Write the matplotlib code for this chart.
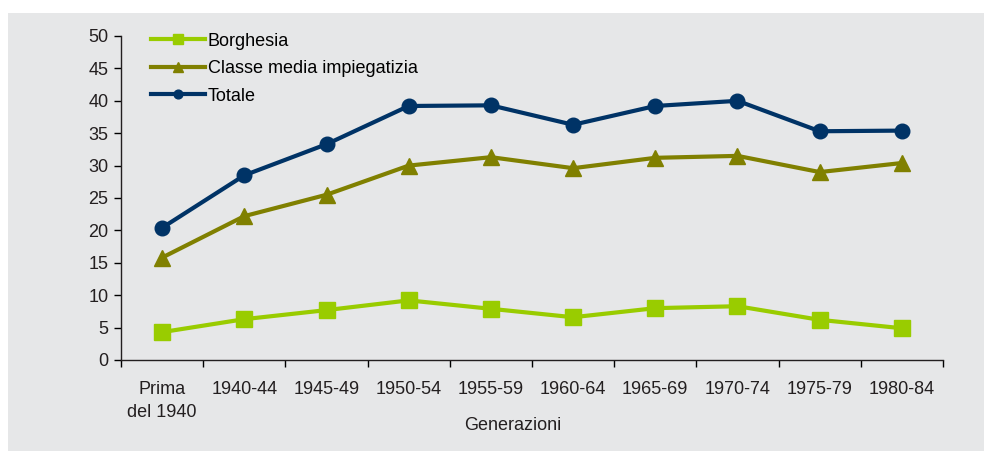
import matplotlib
matplotlib.use('Agg')
import matplotlib.pyplot as plt
from matplotlib.patches import Rectangle
import numpy as np

plt.rcParams['font.family'] = ['Liberation Sans', 'DejaVu Sans']

# data
categories = ['Prima\ndel 1940', '1940-44', '1945-49', '1950-54', '1955-59',
              '1960-64', '1965-69', '1970-74', '1975-79', '1980-84']
borghesia = [4.3, 6.3, 7.7, 9.2, 7.9, 6.6, 8.0, 8.3, 6.2, 4.9]
classe_media = [15.8, 22.2, 25.5, 30.0, 31.3, 29.6, 31.2, 31.5, 29.0, 30.4]
totale = [20.4, 28.5, 33.3, 39.2, 39.3, 36.3, 39.2, 40.0, 35.3, 35.4]
yticks = list(range(0, 51, 5))

bg = '#E6E7E8'
txt = '#231F20'
fig = plt.figure(figsize=(9.84, 4.51), dpi=100)
fig.patch.set_facecolor('white')
fig.patches.append(Rectangle((8/984, 0), 1, 1 - 13/451, transform=fig.transFigure,
                             facecolor=bg, edgecolor='none', zorder=-10))

ax = fig.add_axes([121/984, 1 - 360/451, (943 - 121)/984, (360 - 36)/451])
ax.set_facecolor('none')

x = np.arange(len(categories))
ax.plot(x, borghesia, color='#99CC00', lw=3, marker='s', ms=11.5,
        label='Borghesia', clip_on=False)
ax.plot(x, classe_media, color='#808000', lw=3, marker='^', ms=11,
        label='Classe media impiegatizia', clip_on=False)
ax.plot(x, totale, color='#003366', lw=3, marker='o', ms=10.5,
        label='Totale', clip_on=False)

ax.set_xlim(-0.5, len(categories) - 0.5)
ax.set_ylim(0, 50)
ax.set_yticks(yticks)
ax.set_xticks(x)
ax.set_xticklabels(categories, fontsize=13, color=txt, linespacing=1.45)
ax.set_xticks(np.arange(-0.5, len(categories)), minor=True)
ax.tick_params(axis='x', which='major', length=0, pad=15)
ax.tick_params(axis='x', which='minor', length=5, width=1, direction='out')
ax.tick_params(axis='y', length=5, width=1, direction='out', labelsize=13,
               labelcolor=txt, pad=4)
for s in ['top', 'right']:
    ax.spines[s].set_visible(False)
for s in ['left', 'bottom']:
    ax.spines[s].set_color(txt)
    ax.spines[s].set_linewidth(1)

fig.text(513/984, 1 - 425/451, 'Generazioni', ha='center', va='center',
         fontsize=13, color=txt)

leg = ax.legend(loc='upper left', bbox_to_anchor=(0.0165, 1.06), frameon=False,
                fontsize=13, handlelength=3.0, handletextpad=0.15,
                labelspacing=0.58, markerscale=0.6)

fig.savefig('out.png', dpi=100, facecolor=fig.get_facecolor())
